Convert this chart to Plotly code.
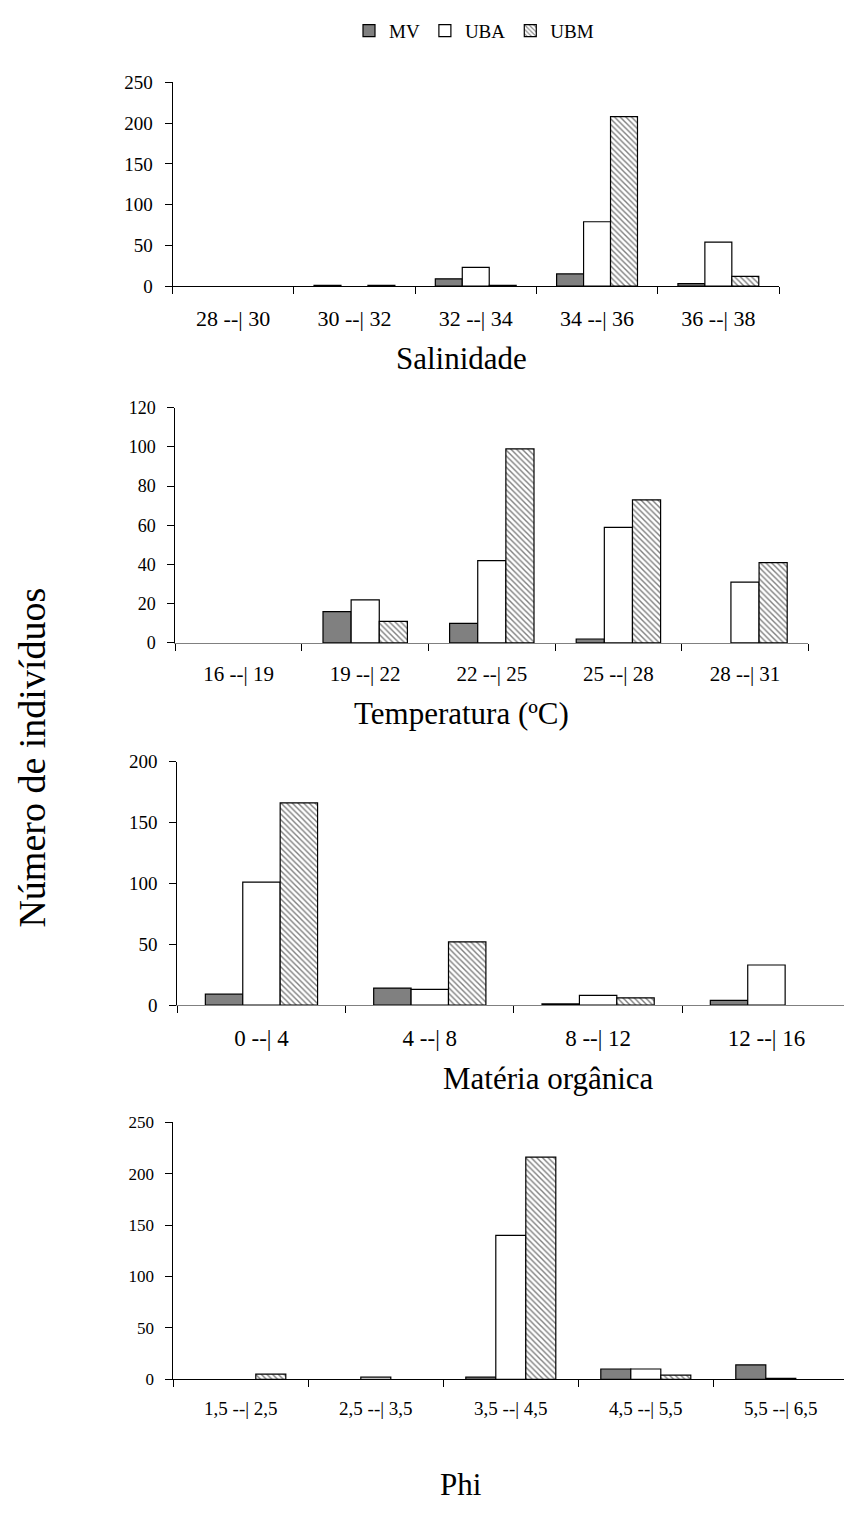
import plotly.graph_objects as go

W, H = 844, 1533
FONT = "Liberation Serif"

series = ["MV", "UBA", "UBM"]

sal_cats = ["28 --| 30", "30 --| 32", "32 --| 34", "34 --| 36", "36 --| 38"]
sal_mv = [0, 1, 9, 15, 3]
sal_uba = [0, 0, 23, 79, 54]
sal_ubm = [0, 1, 1, 208, 12]

tem_cats = ["16 --| 19", "19 --| 22", "22 --| 25", "25 --| 28", "28 --| 31"]
tem_mv = [0, 16, 10, 2, 0]
tem_uba = [0, 22, 42, 59, 31]
tem_ubm = [0, 11, 99, 73, 41]

mo_cats = ["0 --| 4", "4 --| 8", "8 --| 12", "12 --| 16"]
mo_mv = [9, 14, 1, 4]
mo_uba = [101, 13, 8, 33]
mo_ubm = [166, 52, 6, 0]

phi_cats = ["1,5 --| 2,5", "2,5 --| 3,5", "3,5 --| 4,5", "4,5 --| 5,5", "5,5 --| 6,5"]
phi_mv = [0, 0, 2, 10, 14]
phi_uba = [0, 2, 140, 10, 1]
phi_ubm = [5, 0, 216, 4, 0]

titles = ["Salinidade", "Temperatura (ºC)", "Matéria orgânica", "Phi"]
y_title = "Número de indivíduos"

panels = [
    dict(cats=sal_cats, vals=[sal_mv, sal_uba, sal_ubm], x0=172.5, x1=779.0, yt=73.3, yb=280.0,
         ymax=250, dtick=50, tfs=19, xfs=22, xline="black"),
    dict(cats=tem_cats, vals=[tem_mv, tem_uba, tem_ubm], x0=175.3, x1=808.3, yt=403.3, yb=641.7,
         ymax=120, dtick=20, tfs=18, xfs=21, xline="#808080"),
    dict(cats=mo_cats, vals=[mo_mv, mo_uba, mo_ubm], x0=177.3, x1=850.6, yt=762.0, yb=1009.0,
         ymax=200, dtick=50, tfs=19, xfs=23, xline="#808080"),
    dict(cats=phi_cats, vals=[phi_mv, phi_uba, phi_ubm], x0=173.3, x1=848.3, yt=1127.7, yb=1388.3,
         ymax=250, dtick=50, tfs=17, xfs=19, xline="black"),
]

styles = [
    dict(color="#808080", pattern=None),
    dict(color="white", pattern=None),
    dict(color="white", pattern=dict(shape="\\", fgcolor="black", bgcolor="white", size=4, solidity=0.35)),
]

fig = go.Figure()
for i, p in enumerate(panels):
    n = len(p["cats"])
    suffix = "" if i == 0 else str(i + 1)
    for s, name in enumerate(series):
        st = styles[s]
        marker = dict(color=st["color"], line=dict(color="black", width=1.2))
        if st["pattern"]:
            marker["pattern"] = st["pattern"]
        yv = [v if v != 0 else None for v in p["vals"][s]]
        fig.add_trace(go.Bar(
            x=p["cats"], y=yv, name=name, marker=marker,
            xaxis="x" + suffix, yaxis="y" + suffix,
            showlegend=(i == 0), legendgroup=name,
        ))
    catw = (p["x1"] - p["x0"]) / n
    xr = min(p["x1"], W)
    rng_end = -0.5 + (xr - p["x0"]) / catw
    fig.layout["xaxis" + suffix] = dict(
        domain=[p["x0"] / W, xr / W], anchor="y" + suffix,
        type="category", range=[-0.5, rng_end],
        showline=True, linecolor=p["xline"], linewidth=1,
        ticks="outside", tickson="boundaries", ticklen=7, tickcolor="black",
        tickfont=dict(family=FONT, size=p["xfs"], color="black"),
        ticklabelstandoff=12, showgrid=False, zeroline=False, fixedrange=True,
    )
    fig.layout["yaxis" + suffix] = dict(
        domain=[1 - p["yb"] / H, 1 - p["yt"] / H], anchor="x" + suffix,
        range=[0, p["ymax"]], dtick=p["dtick"], tick0=0,
        showline=True, linecolor="black", linewidth=1,
        ticks="outside", ticklen=7, tickcolor="black",
        tickfont=dict(family=FONT, size=p["tfs"], color="black"),
        ticklabelstandoff=8, showgrid=False, zeroline=False, fixedrange=True,
    )

title_pos = [(461, 353), (461, 713), (548, 1083), (461, 1495)]
for t, (tx, ty) in zip(titles, title_pos):
    fig.add_annotation(text=t, x=tx / W, y=1 - ty / H, xref="paper", yref="paper",
                       showarrow=False, xanchor="center", yanchor="middle",
                       font=dict(family=FONT, size=31, color="black"))

fig.add_annotation(text=y_title, x=32 / W, y=1 - 758 / H, xref="paper", yref="paper",
                   showarrow=False, textangle=-90, xanchor="center", yanchor="middle",
                   font=dict(family=FONT, size=38, color="black"))

fig.update_layout(
    width=W, height=H, margin=dict(l=0, r=0, t=0, b=0),
    paper_bgcolor="white", plot_bgcolor="white",
    barmode="group", bargap=1.5 / 4.5, bargroupgap=0,
    legend=dict(orientation="h", x=474 / W, xanchor="center", y=1 - 21 / H, yanchor="middle",
                font=dict(family=FONT, size=19, color="black"), itemwidth=30,
                tracegroupgap=0, bgcolor="rgba(0,0,0,0)", traceorder="normal"),
    font=dict(family=FONT, color="black"),
)

fig.write_html("out.html")
